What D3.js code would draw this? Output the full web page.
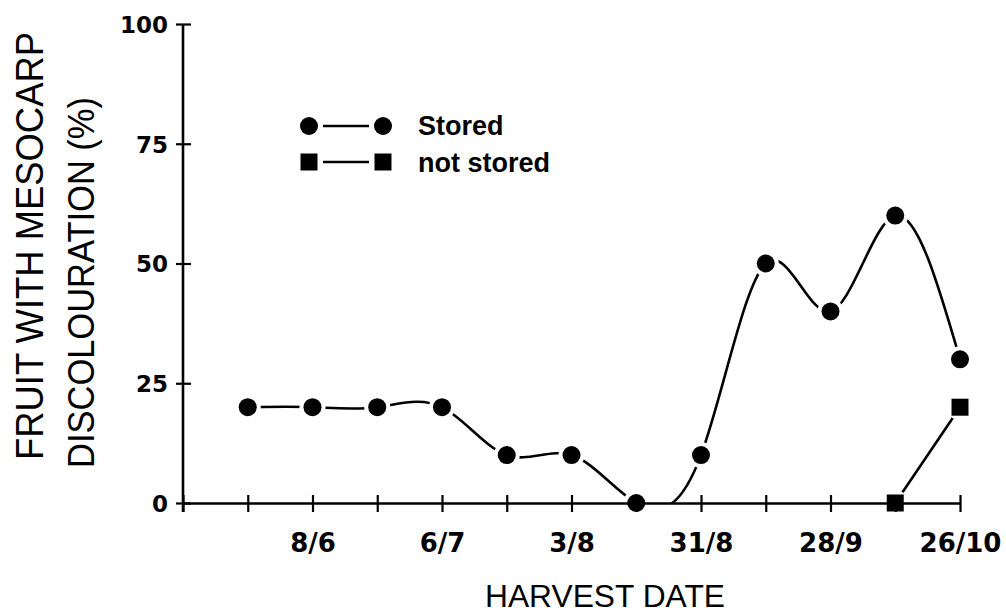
<!DOCTYPE html>
<html>
<head>
<meta charset="utf-8">
<script src="https://cdn.jsdelivr.net/npm/d3@7"></script>
<style>
  html, body { margin: 0; padding: 0; background: #fff; }
  svg { display: block; }
</style>
</head>
<body>
<svg id="chart" width="1006" height="613"></svg>
<script>
// Harvest dates (day/month), one sample every two weeks
const harvestDates = ["25/5","8/6","22/6","6/7","20/7","3/8","17/8","31/8","14/9","28/9","12/10","26/10"];
// Fruit with mesocarp discolouration (%) after storage
const storedValues = [20,20,20,20,10,10,0,10,50,40,60,30];
// Fruit assessed at harvest without storage
const notStoredDates = ["12/10","26/10"];
const notStoredValues = [0,20];
// Axis ticks
const axisStart = "11/5";
const xTickLabels = ["8/6","6/7","3/8","31/8","28/9","26/10"];
const yTicks = [0,25,50,75,100];

const YEAR = 1991;
const parseDM = s => { const [d, m] = s.split("/").map(Number); return new Date(YEAR, m - 1, d); };
const fmtDM = d => `${d.getDate()}/${d.getMonth() + 1}`;

const stored = harvestDates.map((d, i) => ({ date: parseDM(d), value: storedValues[i] }));
const notStored = notStoredDates.map((d, i) => ({ date: parseDM(d), value: notStoredValues[i] }));

const plotLeft = 183, plotRight = 960, plotTop = 24, plotBottom = 503;

const x = d3.scaleTime()
  .domain([parseDM(axisStart), parseDM(harvestDates[harvestDates.length - 1])])
  .range([plotLeft, plotRight]);
const y = d3.scaleLinear().domain([0, 100]).range([plotBottom, plotTop]);

const svg = d3.select("#chart");
const defs = svg.append("defs");

// Keep curves inside the plotting area
defs.append("clipPath").attr("id", "plot-clip")
  .append("rect").attr("x", 0).attr("y", 0).attr("width", 1006).attr("height", plotBottom);

// Leave a small gap in the lines around each marker
const mask = defs.append("mask").attr("id", "marker-gap")
  .attr("maskUnits", "userSpaceOnUse").attr("x", 0).attr("y", 0).attr("width", 1006).attr("height", 613);
mask.append("rect").attr("width", 1006).attr("height", 613).attr("fill", "#fff");
mask.selectAll("circle.gap")
  .data(stored.concat(notStored))
  .join("circle")
  .attr("cx", d => x(d.date)).attr("cy", d => y(d.value)).attr("r", 13).attr("fill", "#000");

const ink = "#000";
const axisWidth = 2.6;

// ---- X axis ----
const xTickDates = [parseDM(axisStart)].concat(stored.map(d => d.date));
const xAxis = d3.axisBottom(x)
  .tickValues(xTickDates)
  .tickSize(0)
  .tickFormat(d => xTickLabels.includes(fmtDM(d)) ? fmtDM(d) : "");
const gx = svg.append("g").attr("transform", `translate(0,${plotBottom})`).call(xAxis);
gx.select(".domain").attr("stroke", ink).attr("stroke-width", axisWidth);
gx.selectAll(".tick line")
  .attr("y1", -8).attr("y2", 9)
  .attr("stroke", ink).attr("stroke-width", 2.2);
gx.selectAll(".tick text")
  .attr("y", 49).attr("dy", 0)
  .attr("fill", ink)
  .attr("font-family", "'DejaVu Sans', sans-serif")
  .attr("font-weight", "bold")
  .attr("font-size", 26);

// ---- Y axis ----
const yAxis = d3.axisLeft(y).tickValues(yTicks).tickSize(0).tickFormat(d3.format("d"));
const gy = svg.append("g").attr("transform", `translate(${plotLeft},0)`).call(yAxis);
gy.select(".domain").attr("stroke", ink).attr("stroke-width", axisWidth)
  .attr("d", `M0,${plotTop}V${plotBottom + 9}`);
gy.selectAll(".tick line")
  .attr("x1", -7).attr("x2", 8)
  .attr("stroke", ink).attr("stroke-width", 2.2);
gy.selectAll(".tick text")
  .attr("x", -15).attr("dy", "0.36em")
  .attr("fill", ink)
  .attr("font-family", "'DejaVu Sans', sans-serif")
  .attr("font-weight", "bold")
  .attr("font-size", 23);
svg.selectAll(".domain").attr("fill", "none");

// ---- Axis titles ----
svg.append("text")
  .attr("x", 485).attr("y", 607)
  .attr("textLength", 240).attr("lengthAdjust", "spacingAndGlyphs")
  .attr("font-family", "'Liberation Sans', Arial, sans-serif")
  .attr("font-size", 32).attr("fill", ink)
  .text("HARVEST DATE");

svg.append("text")
  .attr("transform", "translate(43,460) rotate(-90)")
  .attr("textLength", 428).attr("lengthAdjust", "spacingAndGlyphs")
  .attr("font-family", "'Liberation Sans', Arial, sans-serif")
  .attr("font-size", 38).attr("fill", ink)
  .text("FRUIT WITH MESOCARP");

svg.append("text")
  .attr("transform", "translate(94,468) rotate(-90)")
  .attr("textLength", 371).attr("lengthAdjust", "spacingAndGlyphs")
  .attr("font-family", "'Liberation Sans', Arial, sans-serif")
  .attr("font-size", 37).attr("fill", ink)
  .text("DISCOLOURATION (%)");

// ---- Data lines ----
const smooth = d3.line().x(d => x(d.date)).y(d => y(d.value)).curve(d3.curveNatural);
const straight = d3.line().x(d => x(d.date)).y(d => y(d.value));

const lines = svg.append("g").attr("clip-path", "url(#plot-clip)")
  .append("g").attr("mask", "url(#marker-gap)");
lines.append("path").datum(stored).attr("d", smooth)
  .attr("fill", "none").attr("stroke", ink).attr("stroke-width", 2.6);
lines.append("path").datum(notStored).attr("d", straight)
  .attr("fill", "none").attr("stroke", ink).attr("stroke-width", 2.6);

// ---- Markers ----
const circleR = 9;
const squareSize = 17 * 17;
svg.append("g").selectAll("circle")
  .data(stored).join("circle")
  .attr("cx", d => x(d.date)).attr("cy", d => y(d.value)).attr("r", circleR).attr("fill", ink);
svg.append("g").selectAll("path")
  .data(notStored).join("path")
  .attr("d", d3.symbol(d3.symbolSquare, squareSize))
  .attr("transform", d => `translate(${x(d.date)},${y(d.value)})`)
  .attr("fill", ink);

// ---- Legend ----
const legend = svg.append("g");
const legendRows = [
  { label: "Stored", cy: 126, baseline: 135, shape: "circle" },
  { label: "not stored", cy: 162, baseline: 172, shape: "square" }
];
legendRows.forEach(row => {
  const g = legend.append("g");
  g.append("line").attr("x1", 323).attr("x2", 369).attr("y1", row.cy).attr("y2", row.cy)
    .attr("stroke", ink).attr("stroke-width", 2.6);
  [309, 383].forEach(cx => {
    if (row.shape === "circle") {
      g.append("circle").attr("cx", cx).attr("cy", row.cy).attr("r", circleR).attr("fill", ink);
    } else {
      g.append("path").attr("d", d3.symbol(d3.symbolSquare, squareSize))
        .attr("transform", `translate(${cx},${row.cy})`).attr("fill", ink);
    }
  });
  g.append("text").attr("x", 418).attr("y", row.baseline)
    .attr("font-family", "'Liberation Sans', Arial, sans-serif")
    .attr("font-weight", "bold").attr("font-size", 27).attr("fill", ink)
    .text(row.label);
});
</script>
</body>
</html>
